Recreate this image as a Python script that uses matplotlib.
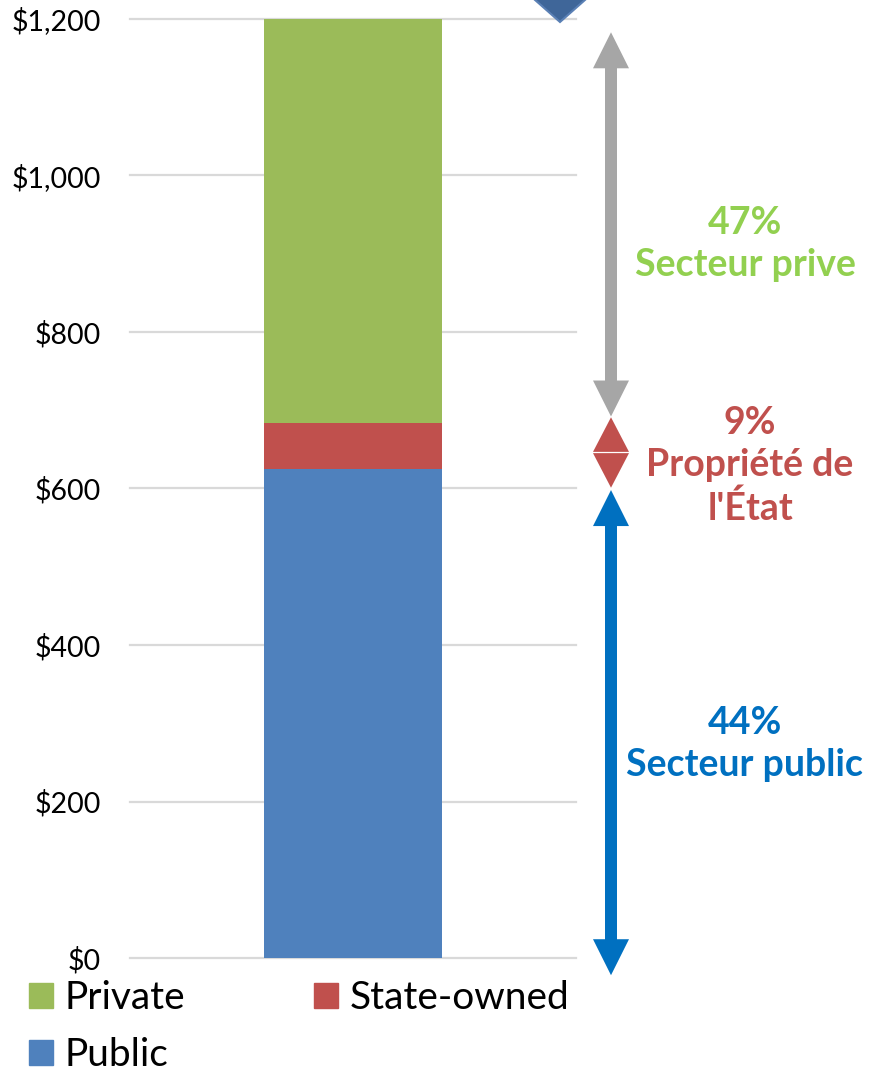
import matplotlib
matplotlib.use("Agg")
import matplotlib.pyplot as plt
import matplotlib.transforms as mtransforms
from matplotlib.patches import Polygon
from matplotlib.patches import Patch

# ---- data ----
categories = ["Total"]
series_names = ["Public", "State-owned", "Private"]
public_vals = [625]
state_vals = [59]
private_vals = [516]
y_ticks = [0, 200, 400, 600, 800, 1000, 1200]
y_tick_labels = ["$0", "$200", "$400", "$600", "$800", "$1,000", "$1,200"]
annot_pct = ["44%", "9%", "47%"]
annot_names = ["Secteur public", "Propriété de\nl'État", "Secteur prive"]

C_PUB = "#4F81BD"
C_STATE = "#C0504D"
C_PRIV = "#9BBB59"

W, H = 869, 1073
fig = plt.figure(figsize=(W / 100, H / 100), dpi=100)
plt.rcParams['font.family'] = ['Lato', 'DejaVu Sans']

ax = fig.add_axes([130 / W, 1 - 958 / H, 446 / W, 939 / H])
ax.set_xlim(-0.5, 0.5)
ax.set_ylim(0, 1200)

x = range(len(categories))
ax.bar(x, public_vals, width=0.4, color=C_PUB, zorder=3)
ax.bar(x, state_vals, width=0.4, bottom=public_vals, color=C_STATE, zorder=3)
bottom2 = [a + b for a, b in zip(public_vals, state_vals)]
ax.bar(x, private_vals, width=0.4, bottom=bottom2, color=C_PRIV, zorder=3)

ax.set_yticks(y_ticks)
ax.set_yticklabels(y_tick_labels, fontsize=20.5, family=['Lato', 'DejaVu Sans'])
ax.tick_params(axis='y', length=0, pad=21)
ax.set_xticks([])
for s in ax.spines.values():
    s.set_visible(False)
ax.yaxis.grid(True, color="#D9D9D9", linewidth=1.6, zorder=0)
for gl in ax.get_ygridlines():
    gl.set_clip_on(False)

# ---- arrows (x in axes fraction, y in data) ----
tr = mtransforms.blended_transform_factory(ax.transAxes, ax.transData)
xc = (611 - 130) / 446
hw = 36 / 446 / 2          # half head width (axes fraction)
sw = 12 / 446 / 2          # half shaft width
hl = 46                    # head length (data units)


def double_arrow(y0, y1, color, shaft=True):
    if shaft:
        pts = [(xc, y1), (xc + hw, y1 - hl), (xc + sw, y1 - hl), (xc + sw, y0 + hl),
               (xc + hw, y0 + hl), (xc, y0), (xc - hw, y0 + hl), (xc - sw, y0 + hl),
               (xc - sw, y1 - hl), (xc - hw, y1 - hl)]
        ax.add_patch(Polygon(pts, closed=True, transform=tr, color=color,
                             clip_on=False, lw=0))
    else:
        mid = (y0 + y1) / 2
        ax.add_patch(Polygon([(xc, y1), (xc + hw, mid + 0.8), (xc - hw, mid + 0.8)],
                             transform=tr, color=color, clip_on=False, lw=0))
        ax.add_patch(Polygon([(xc, y0), (xc + hw, mid - 0.8), (xc - hw, mid - 0.8)],
                             transform=tr, color=color, clip_on=False, lw=0))


double_arrow(692, 1183, "#A6A6A6")
double_arrow(601, 691, C_STATE, shaft=False)
double_arrow(-22, 598, "#0070C0")

# ---- annotations ----
fig.text(745 / W, 1 - 244 / H, annot_pct[2] + "\n" + annot_names[2], color="#92D050",
         fontsize=27, fontweight='bold', ha='center', va='center', linespacing=1.3)
fig.text(750 / W, 1 - 466 / H, annot_pct[1] + "\n" + annot_names[1], color=C_STATE,
         fontsize=27, fontweight='bold', ha='center', va='center', linespacing=1.3)
fig.text(745 / W, 1 - 744 / H, annot_pct[0] + "\n" + annot_names[0], color="#0070C0",
         fontsize=27, fontweight='bold', ha='center', va='center', linespacing=1.3)

# ---- decorative partial diamond at the top ----
pix = mtransforms.Affine2D().scale(1 / W, -1 / H).translate(0, 1) + fig.transFigure
fig.patches.append(Polygon([(526, -8), (594, -8), (560, 22)], closed=True,
                           transform=pix, facecolor="#3F6699", edgecolor="#5A80B5",
                           lw=1.5))

# ---- legend ----
handles = [Patch(color=C_PRIV), Patch(color=C_PUB), Patch(color=C_STATE)]
labels = ["Private", "Public", "State-owned"]
fig.legend(handles, labels, loc='upper left', bbox_to_anchor=(29 / W, 1 - 980 / H),
           ncol=2, frameon=False, fontsize=28, handlelength=0.62, handleheight=0.62,
           handletextpad=0.3, columnspacing=3.3, labelspacing=0.55, borderpad=0,
           borderaxespad=0)

fig.savefig("out.png", dpi=100)
